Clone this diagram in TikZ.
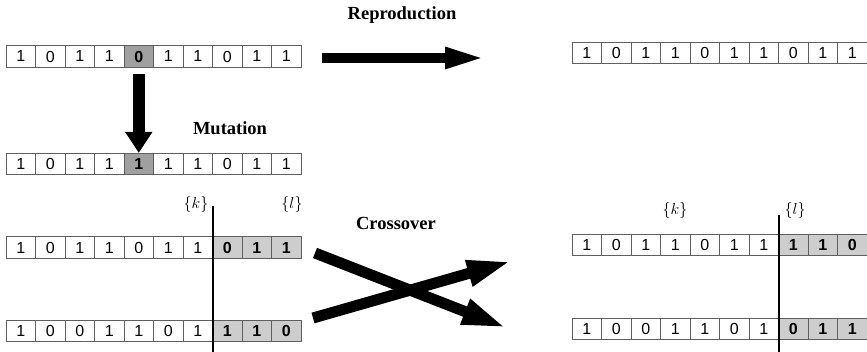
\RequirePackage{fix-cm}
\documentclass[tikz,border=0pt]{standalone}
\usepackage{fontspec}
\setmainfont{Liberation Serif}
\newfontfamily\bitfont{Liberation Sans}
\usepackage{xcolor}
\definecolor{cellborder}{RGB}{95, 95, 95}
\definecolor{mutgray}{RGB}{160, 160, 160}
\definecolor{swapgray}{RGB}{205, 205, 205}
\usepackage{tikz}
\usetikzlibrary{arrows.meta, positioning}

\begin{document}
\begin{tikzpicture}[x=1pt, y=-1pt,
    bit/.style={draw=cellborder, line width=0.7pt, minimum width=29.5pt, minimum height=21.5pt,
        inner sep=0pt, font=\bitfont\fontsize{16}{16}\selectfont},
    oplabel/.style={font=\bfseries\fontsize{18.5}{18.5}\selectfont},
    cutlabel/.style={font=\fontsize{16}{16}\selectfont},
    cutline/.style={line width=1.8pt}]
    \useasboundingbox (0,0) rectangle (867,352);

    % Original chromosome and its mutated copy
    \foreach \b/\f [count=\i] in {1/white,0/white,1/white,1/white,{\textbf{0}}/mutgray,1/white,1/white,0/white,1/white,1/white}
        \node[bit, fill=\f] (orig-\i) at ({6+(\i-0.5)*29.5}, 56.5) {\b};
    \foreach \b/\f [count=\i] in {1/white,0/white,1/white,1/white,{\textbf{1}}/mutgray,1/white,1/white,0/white,1/white,1/white}
        \node[bit, fill=\f] (mut-\i) at ({6+(\i-0.5)*29.5}, 164) {\b};

    % Reproduced chromosome (unchanged copy)
    \foreach \b [count=\i] in {1,0,1,1,0,1,1,0,1,1}
        \node[bit] (rep-\i) at ({572+(\i-0.5)*29.5}, 53) {\b};

    % Parents before crossover
    \foreach \b/\f [count=\i] in {1/white,0/white,1/white,1/white,0/white,1/white,1/white,{\textbf{0}}/swapgray,{\textbf{1}}/swapgray,{\textbf{1}}/swapgray}
        \node[bit, fill=\f] (parA-\i) at ({6+(\i-0.5)*29.5}, 247.5) {\b};
    \foreach \b/\f [count=\i] in {1/white,0/white,0/white,1/white,1/white,0/white,1/white,{\textbf{1}}/swapgray,{\textbf{1}}/swapgray,{\textbf{0}}/swapgray}
        \node[bit, fill=\f] (parB-\i) at ({6+(\i-0.5)*29.5}, 331) {\b};

    % Offspring after crossover (tails swapped)
    \foreach \b/\f [count=\i] in {1/white,0/white,1/white,1/white,0/white,1/white,1/white,{\textbf{1}}/swapgray,{\textbf{1}}/swapgray,{\textbf{0}}/swapgray}
        \node[bit, fill=\f] (offA-\i) at ({572+(\i-0.5)*29.5}, 245) {\b};
    \foreach \b/\f [count=\i] in {1/white,0/white,0/white,1/white,1/white,0/white,1/white,{\textbf{0}}/swapgray,{\textbf{1}}/swapgray,{\textbf{1}}/swapgray}
        \node[bit, fill=\f] (offB-\i) at ({572+(\i-0.5)*29.5}, 329) {\b};

    % Cut points
    \draw[cutline] ([yshift=30pt]parA-7.north east) -- ([yshift=-12pt]parB-7.south east);
    \draw[cutline] ([yshift=19pt]offA-7.north east) -- ([yshift=-12pt]offB-7.south east);
    \node[cutlabel] (kleft) at (196, 205) {$\{k\}$};
    \node[cutlabel] (lleft) at (292, 205) {$\{l\}$};
    \node[cutlabel] (kright) at (675, 211) {$\{k\}$};
    \node[cutlabel] (lright) at (795, 211) {$\{l\}$};

    % Operator names
    \node[oplabel] (reprolabel) at (402, 15) {Reproduction};
    \node[oplabel] (mutlabel) at (230, 128) {Mutation};
    \node[oplabel] (crosslabel) at (396, 223) {Crossover};

    % Block arrows
    \coordinate (repfrom) at (322, 58);
    \coordinate (repto) at (487, 58);
    \draw[line width=10pt, -{Triangle[length=42pt, width=19pt]}] (repfrom) -- (repto);

    \draw[line width=12pt, -{Triangle[length=21pt, width=26pt]}] ([yshift=-6pt]orig-5.south) -- (mut-5.north);

    \coordinate (crossAfrom) at (315, 253);
    \coordinate (crossAto) at (507, 328);
    \coordinate (crossBfrom) at (313, 318);
    \coordinate (crossBto) at (512, 261);
    \draw[line width=11pt, -{Triangle[length=45pt, width=24pt]}] (crossAfrom) -- (crossAto);
    \draw[line width=11pt, -{Triangle[length=45pt, width=24pt]}] (crossBfrom) -- (crossBto);

\end{tikzpicture}
\end{document}
